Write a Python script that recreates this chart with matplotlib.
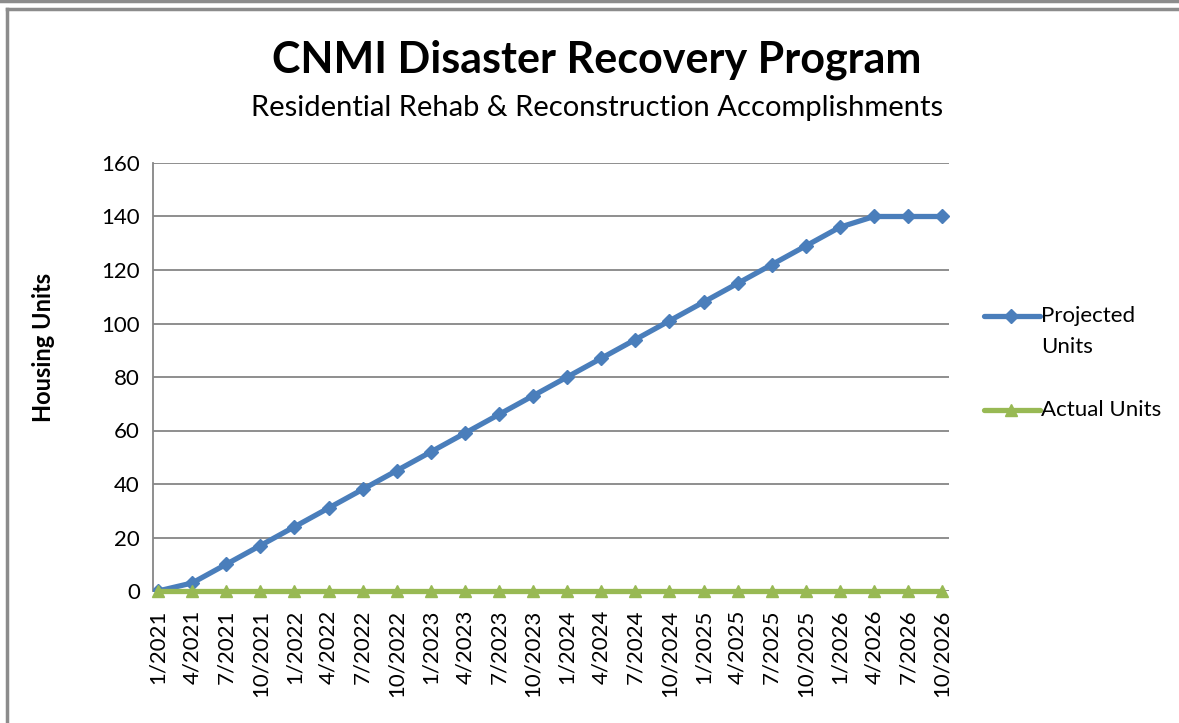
import matplotlib.pyplot as plt
from matplotlib.lines import Line2D

plt.rcParams['font.family'] = ['Lato', 'DejaVu Sans']

# Data
quarters = ['1/2021', '4/2021', '7/2021', '10/2021',
            '1/2022', '4/2022', '7/2022', '10/2022',
            '1/2023', '4/2023', '7/2023', '10/2023',
            '1/2024', '4/2024', '7/2024', '10/2024',
            '1/2025', '4/2025', '7/2025', '10/2025',
            '1/2026', '4/2026', '7/2026', '10/2026']
projected = [0, 3, 10, 17, 24, 31, 38, 45, 52, 59, 66, 73,
             80, 87, 94, 101, 108, 115, 122, 129, 136, 140, 140, 140]
actual = [0] * len(quarters)

blue = '#4a7ebb'
green = '#98b954'
W, H = 1179, 723

fig = plt.figure(figsize=(11.79, 7.23), dpi=100)
ax = fig.add_axes([153 / W, 1 - 591 / H, (949 - 153) / W, (591 - 163) / H])

x = list(range(len(quarters)))
ax.plot(x, projected, color=blue, lw=3.8, marker='D', ms=7, zorder=3)
ax.plot(x, actual, color=green, lw=3.8, marker='^', ms=8, zorder=4, clip_on=False)

ax.set_ylim(0, 160)
ax.set_yticks(range(0, 161, 20))
ax.set_xlim(-0.15, 23.2)
ax.set_xticks(x)
ax.set_xticklabels(quarters, rotation=90, fontsize=16)
ax.tick_params(axis='y', labelsize=16, length=0, pad=9.5)
ax.tick_params(axis='x', length=0, pad=13.5)
ax.grid(axis='y', color='#868686', lw=1.3)
ax.set_axisbelow(True)
for s in ['top', 'right', 'bottom']:
    ax.spines[s].set_visible(False)
ax.spines['left'].set_color('#868686')
ax.spines['left'].set_linewidth(1.3)

fig.text(44 / W, 1 - 347 / H, 'Housing Units', rotation=90, ha='center', va='center',
         fontsize=17, fontweight='bold')

fig.text(597 / W, 1 - 60 / H, 'CNMI Disaster Recovery Program', ha='center', va='center',
         fontsize=31, fontweight='bold')
fig.text(597 / W, 1 - 108 / H, 'Residential Rehab & Reconstruction Accomplishments',
         ha='center', va='center', fontsize=21)

# legend, drawn by hand to match the layout
for yy, col, mk, ms in [(316, blue, 'D', 7), (410, green, '^', 8)]:
    fig.add_artist(Line2D([984 / W, 1040 / W], [1 - yy / H] * 2, color=col, lw=3.8,
                          solid_capstyle='round'))
    fig.add_artist(Line2D([1011 / W], [1 - yy / H], color=col, marker=mk, ms=ms, lw=0))
fig.text(1041 / W, 1 - 316 / H, 'Projected', ha='left', va='center', fontsize=16)
fig.text(1041 / W, 1 - 347 / H, 'Units', ha='left', va='center', fontsize=16)
fig.text(1041 / W, 1 - 410 / H, 'Actual Units', ha='left', va='center', fontsize=16)

# frame lines
fig.add_artist(Line2D([0, 1], [1 - 1 / H] * 2, color='#8c8c8c', lw=2.5))
fig.add_artist(Line2D([7 / W, 1], [1 - 9 / H] * 2, color='#8c8c8c', lw=2.5))
fig.add_artist(Line2D([7 / W] * 2, [0, 1 - 9 / H], color='#8c8c8c', lw=2.5))

fig.savefig('out.png', dpi=100)
